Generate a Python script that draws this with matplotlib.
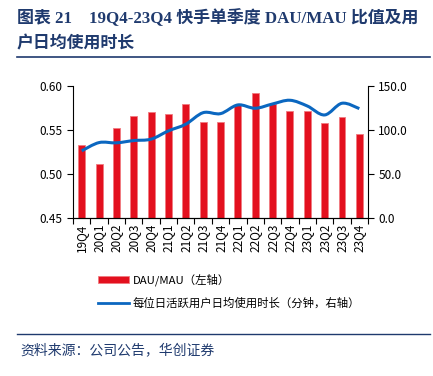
import numpy as np
import matplotlib.pyplot as plt
from matplotlib.path import Path
from matplotlib.patches import PathPatch, Patch
from matplotlib.lines import Line2D

plt.rcParams['font.family'] = ['Noto Sans CJK SC', 'DejaVu Sans']

quarters = ['19Q4', '20Q1', '20Q2', '20Q3', '20Q4', '21Q1', '21Q2', '21Q3', '21Q4',
            '22Q1', '22Q2', '22Q3', '22Q4', '23Q1', '23Q2', '23Q3', '23Q4']
dau_mau = [0.533, 0.511, 0.552, 0.566, 0.570, 0.568, 0.579, 0.559, 0.559,
           0.578, 0.592, 0.580, 0.572, 0.572, 0.558, 0.565, 0.546]
minutes = [76.3, 85.7, 85.4, 88.0, 89.6, 99.0, 106.6, 119.7, 118.6,
           128.5, 124.7, 129.6, 133.8, 127.3, 117.1, 130.4, 124.3]

red = '#E3101E'
blue = '#0B67C0'
navy = '#1F3A6E'

fig = plt.figure(figsize=(4.33, 3.76), dpi=100)
ax = fig.add_axes([73/433, 1-218/376, 295/433, 132/376])
x = np.arange(len(quarters))
ax.bar(x, dau_mau, width=0.4, color=red, edgecolor='#F07A80', linewidth=0.6, zorder=2)
ax.set_ylim(0.45, 0.60)
ax.set_yticks([0.45, 0.50, 0.55, 0.60])
ax.set_yticklabels(['0.45', '0.50', '0.55', '0.60'])
ax.set_xlim(-0.5, len(quarters) - 0.5)
ax.set_xticks(x)
ax.set_xticklabels(quarters, rotation=90)
ax.tick_params(axis='x', length=0, pad=4)
ax.set_xticks(np.arange(-0.5, len(quarters), 1), minor=True)
ax.tick_params(axis='x', which='minor', length=4, width=0.8)
ax.tick_params(axis='y', length=4, width=0.8)
ax.tick_params(labelsize=8.5, colors='black')
for s in ['top', 'right']:
    ax.spines[s].set_visible(False)

ax2 = ax.twinx()
ax2.set_ylim(0, 150)
ax2.set_yticks([0, 50, 100, 150])
ax2.set_yticklabels(['0.0', '50.0', '100.0', '150.0'])
ax2.tick_params(axis='y', length=4, width=0.8, labelsize=8.5)
for s in ['top', 'left']:
    ax2.spines[s].set_visible(False)

# smooth line: Catmull-Rom -> cubic Bezier path
pts = np.column_stack([x, minutes]).astype(float)
verts = [tuple(pts[0])]
codes = [Path.MOVETO]
for i in range(len(pts) - 1):
    p0 = pts[i - 1] if i > 0 else pts[i]
    p1, p2 = pts[i], pts[i + 1]
    p3 = pts[i + 2] if i + 2 < len(pts) else pts[i + 1]
    c1 = p1 + (p2 - p0) / 6
    c2 = p2 - (p3 - p1) / 6
    verts += [tuple(c1), tuple(c2), tuple(p2)]
    codes += [Path.CURVE4] * 3
ax2.add_patch(PathPatch(Path(verts, codes), fill=False, edgecolor=blue, lw=2.2, zorder=3))

# legend
handles = [Patch(facecolor=red, edgecolor='#F07A80', linewidth=0.6),
           Line2D([], [], color=blue, lw=2)]
labels = ['DAU/MAU（左轴）', '每位日活跃用户日均使用时长（分钟，右轴）']
fig.legend(handles, labels, loc='upper left', bbox_to_anchor=(88/433, 1-263/376),
           frameon=False, fontsize=8.2, handlelength=2.7, handleheight=0.6,
           labelspacing=1.05, handletextpad=0.35)

# title
fig.text(17/433, 1-18/376, '图表 21    19Q4-23Q4 快手单季度 DAU/MAU 比值及用',
         fontsize=12.2, fontweight='bold', color=navy, va='center',
         family=['Liberation Serif', 'Noto Sans CJK SC'])
fig.text(17/433, 1-43/376, '户日均使用时长', fontsize=12.2, fontweight='bold',
         color=navy, va='center', family=['Noto Sans CJK SC'])
fig.add_artist(Line2D([17/433, 430/433], [1-57/376, 1-57/376], color=navy, lw=1.2))
fig.add_artist(Line2D([17/433, 430/433], [1-334/376, 1-334/376], color=navy, lw=1.0))
fig.text(20/433, 1-350/376, '资料来源：公司公告，华创证券', fontsize=10, color=navy,
         style='italic', va='center')

fig.savefig('out.png', dpi=100)
